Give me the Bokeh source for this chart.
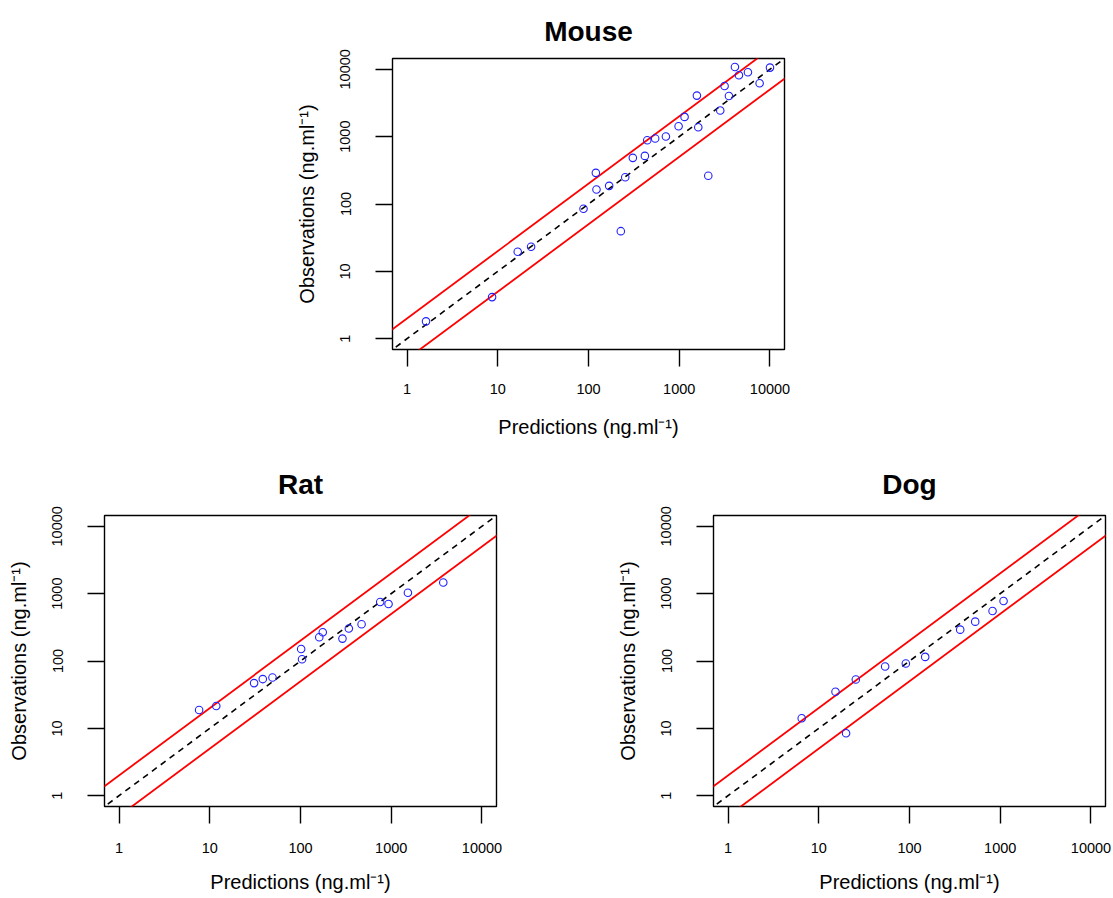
import numpy as np
from bokeh.plotting import figure
from bokeh.models import Range1d, FixedTicker, PrintfTickFormatter, Spacer
from bokeh.layouts import column, row
from bokeh.embed import file_html
from bokeh.resources import INLINE

# ---------------- data ----------------
mouse_pred = [1.62, 8.66, 16.6, 23.3, 88.1, 120.5, 122.5, 169, 227, 254, 308, 418, 444, 543,
              713, 984, 1145, 1566, 1621, 2089, 2832, 3162, 3531, 4111, 4550, 5717, 7690, 10000]
mouse_obs = [1.81, 4.15, 19.5, 23.2, 84.8, 290, 164, 186, 39.5, 250, 484, 518, 885, 937,
             1003, 1428, 1963, 4067, 1380, 262, 2438, 5660, 4020, 10830, 8150, 9030, 6200, 10590]

rat_pred = [7.63, 11.8, 30.8, 38.4, 49.1, 101.7, 104, 161, 176, 290, 341, 471, 756, 934, 1527, 3747]
rat_obs = [18.7, 21.5, 47, 53.9, 57, 151, 106, 225, 267, 215, 303, 351, 750, 701, 1032, 1467]

dog_pred = [6.49, 15.3, 20.0, 25.6, 53.9, 91.1, 149, 362, 530, 823, 1088]
dog_obs = [14.1, 35.0, 8.46, 53.2, 82.9, 91.8, 115, 292, 384, 552, 777]

axis_limits = [1, 10000]
tick_values = [1, 10, 100, 1000, 10000]
fold = 2.0
line_x = [0.1, 100000]

FONT = "Liberation Sans"


def make_panel(title, pred, obs, width, height, bl, br, bt, bb, tstand, xstand, xlab):
    lo, hi = np.log10(axis_limits[0]), np.log10(axis_limits[1])
    ext = (hi - lo) * 0.04
    rng = (10 ** (lo - ext), 10 ** (hi + ext))
    p = figure(width=width, height=height, x_axis_type="log", y_axis_type="log",
               x_range=Range1d(*rng), y_range=Range1d(*rng),
               output_backend="svg", toolbar_location=None,
               min_border_left=bl, min_border_right=br,
               min_border_top=bt, min_border_bottom=bb,
               background_fill_color="white", border_fill_color="white")
    p.title.text = title
    p.title.align = "center"
    p.title.text_font = FONT
    p.title.text_font_size = "28px"
    p.title.text_font_style = "bold"
    p.title.text_color = "black"
    p.title.standoff = tstand

    p.xgrid.visible = False
    p.ygrid.visible = False
    p.outline_line_color = "black"
    p.outline_line_width = 1.4
    p.outline_line_alpha = 1.0

    for ax in (p.xaxis[0], p.yaxis[0]):
        ax.ticker = FixedTicker(ticks=tick_values, minor_ticks=[])
        ax.formatter = PrintfTickFormatter(format="%d")
        ax.axis_line_color = None
        ax.major_tick_out = 17
        ax.major_tick_in = 0
        ax.minor_tick_out = 0
        ax.minor_tick_in = 0
        ax.major_tick_line_color = "black"
        ax.major_tick_line_width = 1.4
        ax.major_label_text_font = FONT
        ax.major_label_text_font_size = "14.5px"
        ax.major_label_text_color = "black"
        ax.axis_label_text_font = FONT
        ax.axis_label_text_font_size = "20px"
        ax.axis_label_text_font_style = "normal"
        ax.axis_label_text_color = "black"

    p.xaxis.axis_label = "Predictions (ng.ml\u207b\u00b9)"
    p.yaxis.axis_label = "Observations (ng.ml\u207b\u00b9)"
    p.xaxis.major_label_standoff = xstand
    p.yaxis.major_label_standoff = 25
    p.yaxis.major_label_orientation = "parallel"
    p.xaxis.axis_label_standoff = xlab
    p.yaxis.axis_label_standoff = 20

    # identity and fold lines
    p.line(line_x, [v * fold for v in line_x], line_color="red", line_width=1.8)
    p.line(line_x, [v / fold for v in line_x], line_color="red", line_width=1.8)
    p.line(line_x, line_x, line_color="black", line_width=1.6, line_dash="6 5")

    p.scatter(pred, obs, marker="circle", size=7.5, fill_color=None,
              line_color="#2020ff", line_width=1.1)
    return p


mouse = make_panel("Mouse", mouse_pred, mouse_obs, 504, 450, 102, 10, 58, 101, 24, 17, 19)
rat = make_panel("Rat", rat_pred, rat_obs, 609, 446, 102, 115, 65, 90, 32, 19, 15)
dog = make_panel("Dog", dog_pred, dog_obs, 500, 446, 102, 6, 65, 90, 32, 19, 15)

layout = column(
    row(Spacer(width=290, height=450), mouse),
    row(Spacer(width=2, height=446), rat, dog),
)

open("out.html", "w").write(file_html(layout, INLINE))
